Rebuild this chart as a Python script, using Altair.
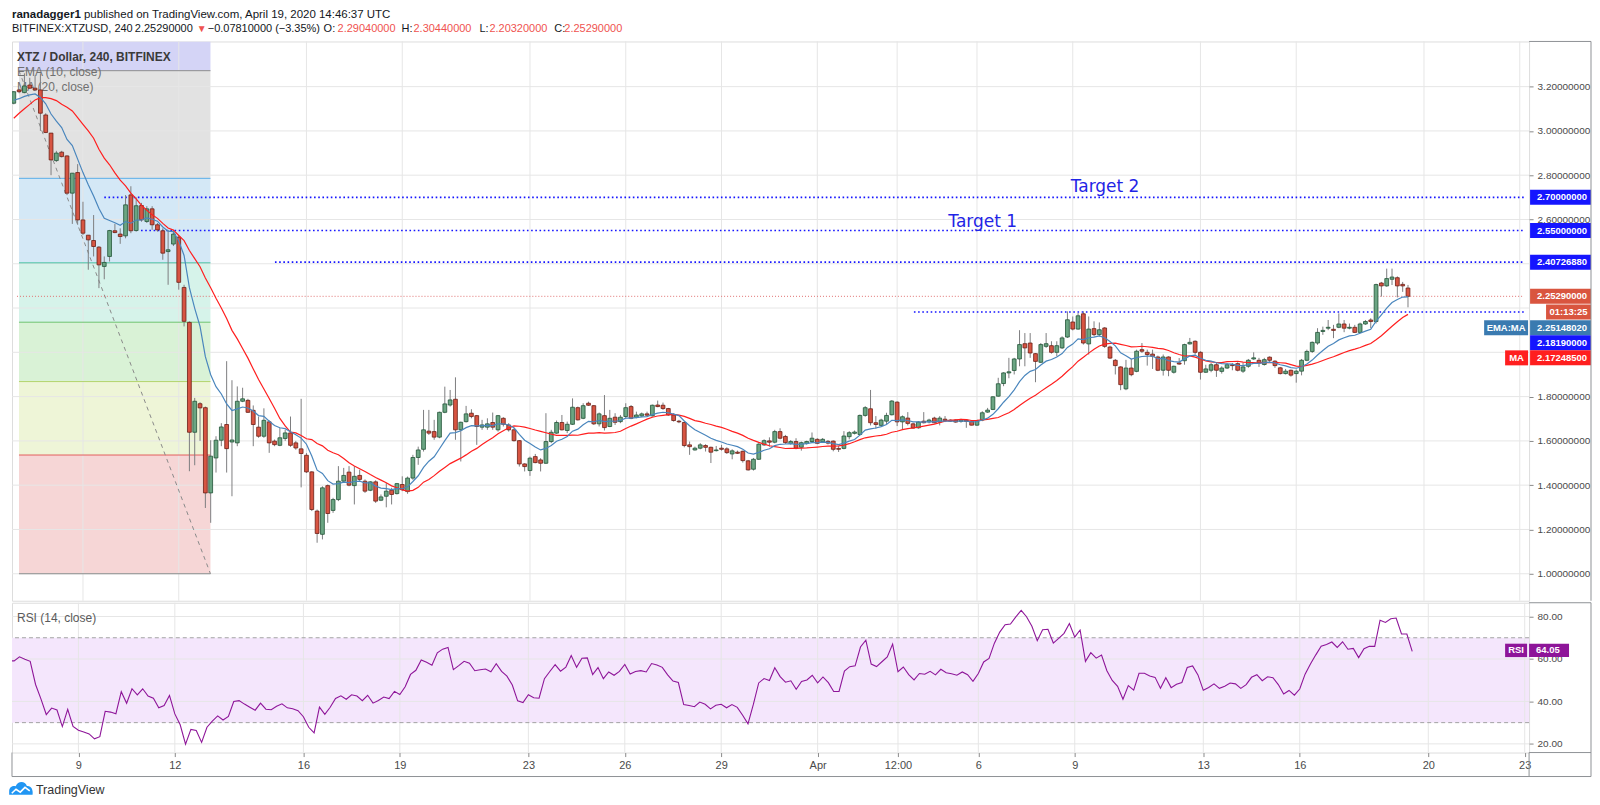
import json
import altair as alt
import numpy as np
import pandas as pd

# ---------------------------------------------------------------- data
first_bar = "2020-03-06 20:00"          # BITFINEX:XTZUSD, 4-hour bars

opens = [
    3.125, 3.185, 3.173, 3.207, 3.193, 3.185, 3.072, 2.99, 2.866, 2.904,
    2.887, 2.719, 2.812, 2.598, 2.529, 2.505, 2.475, 2.388, 2.433, 2.549,
    2.534, 2.526, 2.711, 2.55, 2.663, 2.591, 2.648, 2.576, 2.549, 2.455,
    2.489, 2.52, 2.293, 2.135, 1.639, 1.768, 1.75, 1.365, 1.523, 1.603,
    1.674, 1.595, 1.591, 1.779, 1.783, 1.738, 1.662, 1.621, 1.686, 1.599,
    1.58, 1.611, 1.636, 1.591, 1.564, 1.535, 1.46, 1.283, 1.178, 1.398,
    1.286, 1.335, 1.418, 1.459, 1.398, 1.444, 1.418, 1.377, 1.415, 1.332,
    1.35, 1.377, 1.362, 1.403, 1.371, 1.432, 1.525, 1.562, 1.644, 1.642,
    1.617, 1.729, 1.762, 1.788, 1.65, 1.687, 1.725, 1.714, 1.662, 1.662,
    1.683, 1.65, 1.702, 1.672, 1.65, 1.601, 1.496, 1.466, 1.529, 1.514,
    1.499, 1.597, 1.635, 1.683, 1.647, 1.675, 1.75, 1.702, 1.77, 1.759,
    1.677, 1.714, 1.665, 1.707, 1.687, 1.71, 1.755, 1.707, 1.713, 1.722,
    1.713, 1.762, 1.761, 1.746, 1.717, 1.689, 1.683, 1.582, 1.559, 1.567,
    1.579, 1.571, 1.556, 1.567, 1.564, 1.541, 1.549, 1.553, 1.51, 1.472,
    1.517, 1.582, 1.60, 1.594, 1.642, 1.62, 1.589, 1.597, 1.571, 1.589,
    1.597, 1.607, 1.596, 1.598, 1.599, 1.566, 1.566, 1.619, 1.634, 1.629,
    1.715, 1.745, 1.682, 1.67, 1.689, 1.718, 1.775, 1.686, 1.703, 1.677,
    1.659, 1.689, 1.686, 1.703, 1.685, 1.698, 1.694, 1.694, 1.688, 1.694,
    1.689, 1.671, 1.694, 1.73, 1.742, 1.802, 1.859, 1.907, 1.918, 1.97,
    2.039, 2.042, 1.994, 1.955, 2.027, 2.03, 2.00, 2.02, 2.069, 2.137,
    2.105, 2.174, 2.038, 2.107, 2.08, 2.11, 2.024, 1.964, 1.934, 1.835,
    1.929, 1.914, 2.012, 2.00, 1.992, 1.979, 1.919, 1.979, 1.91, 1.952,
    1.962, 2.038, 2.05, 2.00, 1.91, 1.919, 1.944, 1.914, 1.929, 1.944,
    1.949, 1.915, 1.937, 1.97, 1.964, 1.945, 1.978, 1.96, 1.93, 1.904,
    1.919, 1.904, 1.915, 1.964, 2.004, 2.042, 2.094, 2.109, 2.104, 2.113,
    2.128, 2.109, 2.113, 2.09, 2.128, 2.146, 2.139, 2.313, 2.30, 2.33,
    2.337, 2.307, 2.2904,
]
highs = [
    3.18, 3.19, 3.26, 3.24, 3.25, 3.26, 3.08, 2.99, 2.91, 2.91,
    2.89, 2.81, 2.85, 2.68, 2.53, 2.62, 2.48, 2.433, 2.553, 2.58,
    2.56, 2.71, 2.75, 2.70, 2.675, 2.66, 2.66, 2.584, 2.56, 2.553,
    2.553, 2.53, 2.305, 2.14, 1.794, 1.775, 1.755, 1.603, 1.621, 1.68,
    1.96, 1.874, 1.846, 1.84, 1.79, 1.76, 1.71, 1.747, 1.693, 1.606,
    1.659, 1.65, 1.71, 1.60, 1.79, 1.545, 1.463, 1.29, 1.395, 1.403,
    1.343, 1.486, 1.478, 1.486, 1.486, 1.47, 1.426, 1.418, 1.422, 1.358,
    1.41, 1.388, 1.41, 1.44, 1.439, 1.537, 1.574, 1.74, 1.74, 1.695,
    1.732, 1.845, 1.83, 1.887, 1.687, 1.758, 1.743, 1.717, 1.695, 1.702,
    1.728, 1.717, 1.707, 1.68, 1.657, 1.604, 1.499, 1.529, 1.541, 1.522,
    1.725, 1.65, 1.692, 1.717, 1.687, 1.792, 1.755, 1.77, 1.777, 1.762,
    1.728, 1.807, 1.74, 1.725, 1.717, 1.77, 1.762, 1.732, 1.728, 1.732,
    1.764, 1.782, 1.773, 1.749, 1.725, 1.695, 1.686, 1.597, 1.574, 1.59,
    1.585, 1.574, 1.577, 1.582, 1.571, 1.562, 1.556, 1.556, 1.514, 1.523,
    1.59, 1.607, 1.616, 1.65, 1.657, 1.627, 1.604, 1.612, 1.597, 1.601,
    1.638, 1.612, 1.613, 1.604, 1.602, 1.577, 1.644, 1.644, 1.647, 1.719,
    1.757, 1.83, 1.712, 1.70, 1.727, 1.784, 1.779, 1.715, 1.73, 1.682,
    1.689, 1.73, 1.70, 1.709, 1.712, 1.712, 1.697, 1.697, 1.70, 1.697,
    1.694, 1.695, 1.734, 1.749, 1.802, 1.885, 1.91, 1.975, 1.975, 2.10,
    2.087, 2.087, 1.997, 2.042, 2.087, 2.05, 2.05, 2.072, 2.185, 2.162,
    2.177, 2.185, 2.162, 2.14, 2.135, 2.114, 2.03, 1.97, 1.937, 1.966,
    1.97, 2.012, 2.042, 2.012, 2.012, 1.985, 1.99, 1.982, 1.94, 1.974,
    2.039, 2.065, 2.054, 2.005, 1.944, 1.952, 1.952, 1.937, 1.952, 1.952,
    1.955, 1.952, 1.97, 2.00, 1.975, 1.975, 1.982, 1.964, 1.934, 1.925,
    1.922, 1.922, 1.97, 2.012, 2.049, 2.109, 2.116, 2.146, 2.124, 2.176,
    2.146, 2.13, 2.124, 2.134, 2.146, 2.154, 2.31, 2.318, 2.378, 2.378,
    2.343, 2.318, 2.3044,
]
lows = [
    3.12, 3.17, 3.17, 3.19, 3.18, 3.00, 2.99, 2.80, 2.86, 2.88,
    2.71, 2.58, 2.576, 2.53, 2.373, 2.433, 2.29, 2.33, 2.41, 2.538,
    2.49, 2.515, 2.538, 2.545, 2.59, 2.584, 2.553, 2.545, 2.418, 2.305,
    2.48, 2.283, 2.117, 1.463, 1.49, 1.60, 1.297, 1.23, 1.457, 1.576,
    1.457, 1.35, 1.576, 1.775, 1.726, 1.576, 1.614, 1.614, 1.546, 1.576,
    1.576, 1.60, 1.573, 1.56, 1.39, 1.455, 1.283, 1.14, 1.155, 1.23,
    1.275, 1.328, 1.41, 1.395, 1.313, 1.418, 1.365, 1.373, 1.32, 1.328,
    1.30, 1.313, 1.358, 1.373, 1.361, 1.424, 1.492, 1.552, 1.627, 1.605,
    1.612, 1.725, 1.755, 1.605, 1.507, 1.683, 1.702, 1.582, 1.65, 1.65,
    1.65, 1.642, 1.665, 1.642, 1.597, 1.484, 1.462, 1.442, 1.499, 1.462,
    1.496, 1.59, 1.632, 1.647, 1.635, 1.672, 1.692, 1.698, 1.758, 1.672,
    1.665, 1.647, 1.662, 1.672, 1.68, 1.702, 1.698, 1.702, 1.707, 1.71,
    1.71, 1.752, 1.74, 1.713, 1.687, 1.68, 1.571, 1.537, 1.556, 1.562,
    1.552, 1.50, 1.552, 1.556, 1.541, 1.517, 1.541, 1.502, 1.466, 1.466,
    1.514, 1.577, 1.574, 1.589, 1.607, 1.586, 1.583, 1.562, 1.556, 1.583,
    1.592, 1.585, 1.592, 1.584, 1.553, 1.55, 1.562, 1.607, 1.629, 1.625,
    1.709, 1.67, 1.655, 1.667, 1.674, 1.715, 1.667, 1.652, 1.67, 1.655,
    1.655, 1.679, 1.679, 1.679, 1.67, 1.685, 1.686, 1.682, 1.682, 1.659,
    1.67, 1.668, 1.689, 1.727, 1.739, 1.799, 1.847, 1.883, 1.90, 1.937,
    1.937, 1.975, 1.865, 1.952, 2.02, 1.994, 1.982, 2.015, 2.065, 2.099,
    2.102, 2.035, 1.99, 2.072, 2.072, 2.02, 1.97, 1.90, 1.829, 1.829,
    1.892, 1.91, 1.997, 1.94, 1.925, 1.915, 1.895, 1.892, 1.904, 1.944,
    1.944, 2.035, 1.99, 1.877, 1.907, 1.91, 1.889, 1.904, 1.925, 1.919,
    1.914, 1.907, 1.93, 1.966, 1.934, 1.94, 1.955, 1.93, 1.90, 1.90,
    1.89, 1.863, 1.896, 1.96, 1.997, 2.034, 2.079, 2.10, 2.064, 2.109,
    2.091, 2.104, 2.087, 2.087, 2.124, 2.109, 2.13, 2.252, 2.296, 2.304,
    2.248, 2.273, 2.2032,
]
closes = [
    3.177, 3.177, 3.203, 3.193, 3.185, 3.08, 2.993, 2.869, 2.90, 2.884,
    2.719, 2.809, 2.598, 2.538, 2.508, 2.478, 2.395, 2.406, 2.55, 2.541,
    2.523, 2.666, 2.549, 2.662, 2.598, 2.648, 2.576, 2.553, 2.448, 2.463,
    2.534, 2.316, 2.14, 1.639, 1.779, 1.749, 1.365, 1.531, 1.603, 1.663,
    1.565, 1.604, 1.779, 1.79, 1.729, 1.674, 1.621, 1.693, 1.591, 1.583,
    1.614, 1.636, 1.58, 1.568, 1.543, 1.46, 1.29, 1.182, 1.388, 1.272,
    1.335, 1.418, 1.444, 1.40, 1.44, 1.426, 1.373, 1.415, 1.328, 1.347,
    1.373, 1.358, 1.407, 1.38, 1.432, 1.525, 1.559, 1.65, 1.635, 1.617,
    1.729, 1.767, 1.785, 1.65, 1.684, 1.722, 1.71, 1.665, 1.672, 1.677,
    1.662, 1.714, 1.675, 1.65, 1.601, 1.496, 1.484, 1.522, 1.502, 1.499,
    1.597, 1.639, 1.683, 1.65, 1.675, 1.752, 1.695, 1.759, 1.761, 1.677,
    1.722, 1.66, 1.702, 1.684, 1.707, 1.75, 1.702, 1.717, 1.722, 1.716,
    1.761, 1.755, 1.746, 1.717, 1.692, 1.686, 1.579, 1.574, 1.567, 1.582,
    1.571, 1.549, 1.559, 1.562, 1.547, 1.555, 1.544, 1.511, 1.469, 1.517,
    1.585, 1.601, 1.594, 1.642, 1.612, 1.592, 1.597, 1.567, 1.592, 1.597,
    1.612, 1.589, 1.607, 1.59, 1.562, 1.562, 1.622, 1.637, 1.64, 1.715,
    1.75, 1.682, 1.674, 1.694, 1.715, 1.78, 1.686, 1.709, 1.679, 1.658,
    1.685, 1.682, 1.694, 1.682, 1.703, 1.692, 1.689, 1.685, 1.695, 1.688,
    1.671, 1.692, 1.727, 1.739, 1.799, 1.858, 1.907, 1.912, 1.97, 2.035,
    2.02, 1.997, 1.959, 2.035, 2.039, 2.00, 2.03, 2.065, 2.147, 2.105,
    2.165, 2.042, 2.105, 2.08, 2.102, 2.027, 1.974, 1.94, 1.854, 1.929,
    1.899, 2.005, 2.005, 1.99, 1.982, 1.919, 1.979, 1.919, 1.937, 1.947,
    2.035, 2.045, 2.00, 1.91, 1.925, 1.944, 1.919, 1.929, 1.944, 1.94,
    1.919, 1.934, 1.964, 1.975, 1.952, 1.967, 1.964, 1.94, 1.904, 1.915,
    1.897, 1.915, 1.964, 2.004, 2.045, 2.09, 2.099, 2.113, 2.099, 2.128,
    2.109, 2.113, 2.09, 2.128, 2.139, 2.139, 2.306, 2.30, 2.333, 2.34,
    2.30, 2.30, 2.2529,
]
assert len(opens) == len(highs) == len(lows) == len(closes) == 263

# indicator state at its left edge (history before the window)
ma_first_read = [3.057, 3.08, 3.10, 3.12, 3.14, 3.15, 3.15, 3.146, 3.137, 3.12,
                 3.107, 3.09, 3.06, 3.03, 3.0, 2.967, 2.917, 2.877, 2.847]
ema_before_first = 3.13
rsi_seed_gain, rsi_seed_loss = 0.026, 0.018

price_ticks = [1.0, 1.2, 1.4, 1.6, 1.8, 2.0, 2.2, 2.4, 2.6, 2.8, 3.0, 3.2]
price_hidden_ticks = [2.0, 2.2, 2.4]          # labels covered by the price tags in the reference
rsi_ticks = [20, 40, 60, 80]
time_ticks = [9, 12, 16, 19, 23, 26, 29, 32, 34.5, 37, 40, 44, 47, 51, 54]   # day of March (Apr 1 = 32)
time_labels = ["9", "12", "16", "19", "23", "26", "29", "Apr", "12:00", "6", "9", "13", "16", "20", "23"]

fib_low, fib_high = 1.0, 3.272
fib_ratios = [0, 0.236, 0.382, 0.5, 0.618, 0.786, 1.0, 1.618]
fib_start_day, fib_end_day = 6.996, 12.993

level_prices = [2.70, 2.55, 2.4072688, 2.1819]
level_start_days = [9.668, 10.818, 15.013, 35.025]
last_price = 2.2529

target_texts = ["Target 2", "Target 1"]
target_days = [39.935, 36.104]
target_prices = [2.726, 2.564]

axis_tag_texts = ["2.70000000", "2.55000000", "2.40726880", "2.25290000",
                  "2.25148020", "2.18190000", "2.17248500"]
axis_tag_at = [2.70, 2.55, 2.4072688, 2.2529, 2.111, 2.043, 1.975]   # displayed (stacked) positions
timer_text, timer_at = "01:13:25", 2.182
rsi_last_text, rsi_last_at = "64.05", 64.05

# ---------------------------------------------------------------- styles
FONT = "Liberation Sans"
GRID = "#e6e6e6"
FRAME = "#8f9296"
UP, UP_EDGE = "#6ba583", "#225437"
DN, DN_EDGE = "#d75442", "#6b1f16"
WICK = "#7d7d7f"
EMA_C, MA_C = "#4a86bd", "#ff1f1f"
BLUE = "#1515ff"
LAST_RED = "#d9553f"
EMA_BOX = "#3a7ab0"
RSI_C = "#8e1599"
HEAD_RED = "#ef5350"

X0, X1 = 6.9335, 54.136
P0, P1 = 0.878, 3.404
R0, R1 = 15.9, 86.5
W, HM, HR = 1519, 560, 150
PX_PER_PRICE = HM / (P1 - P0)
PX_PER_RSI = HR / (R1 - R0)

# ---------------------------------------------------------------- derived series
n = len(closes)
times = pd.date_range(first_bar, periods=n, freq="4h")
day = ((times - pd.Timestamp("2020-02-29")) / pd.Timedelta(days=1)).to_numpy()

alpha = 2 / 11
ema, prev = [], ema_before_first
for c in closes:
    prev = prev + alpha * (c - prev)
    ema.append(prev)
ma = list(ma_first_read) + [float(np.mean(closes[i - 19:i + 1])) for i in range(19, n)]

ag, al = rsi_seed_gain, rsi_seed_loss
rsi = [100 * ag / (ag + al)]
for i in range(1, n):
    ch = closes[i] - closes[i - 1]
    ag = (ag * 13 + max(ch, 0)) / 14
    al = (al * 13 + max(-ch, 0)) / 14
    rsi.append(100 - 100 / (1 + ag / al))

df = pd.DataFrame({"day": day, "open": opens, "high": highs, "low": lows,
                   "close": closes, "ema": ema, "ma": ma, "rsi": rsi})
df["dir"] = np.where(df["close"] >= df["open"], "up", "down")

x_scale = alt.Scale(domain=[X0, X1], nice=False, zero=False)
y_scale = alt.Scale(domain=[P0, P1], nice=False, zero=False)
r_scale = alt.Scale(domain=[R0, R1], nice=False, zero=False)

price_label_ticks = [p for p in price_ticks if p not in price_hidden_ticks]
PRICE_AXIS = alt.Axis(orient="right", values=price_label_ticks, format=".8f", grid=False, domain=False,
                      tickColor="#8a8a8a", tickSize=4, labelColor="#4a4a4a", labelFontSize=10,
                      labelFont=FONT, labelPadding=4, title=None, labelOverlap=False)
RSI_AXIS = alt.Axis(orient="right", values=rsi_ticks, format=".2f", grid=False, domain=False,
                    tickColor="#8a8a8a", tickSize=4, labelColor="#4a4a4a", labelFontSize=10,
                    labelFont=FONT, labelPadding=4, title=None, labelOverlap=False)
label_expr = f"{json.dumps(time_labels)}[indexof({json.dumps(time_ticks)}, datum.value)]"
TIME_AXIS = alt.Axis(values=time_ticks, labelExpr=label_expr, grid=False, domain=False,
                     tickColor="#8a8a8a", tickSize=4, labelColor="#4a4a4a", labelFontSize=11,
                     labelFont=FONT, labelPadding=3, title=None, labelOverlap=False, labelFlush=False)


def px(field):          # main panel x (no axis)
    return alt.X(field, type="quantitative", scale=x_scale, axis=None)


def rx(field):          # RSI panel x (time axis)
    return alt.X(field, type="quantitative", scale=x_scale, axis=TIME_AXIS)


def py(field):
    return alt.Y(field, type="quantitative", scale=y_scale, axis=PRICE_AXIS)


def ry(field):
    return alt.Y(field, type="quantitative", scale=r_scale, axis=RSI_AXIS)


one = pd.DataFrame({"k": [0]})

# ---------------------------------------------------------------- header
head_rows = [
    ("published on TradingView.com, April 19, 2020 14:46:37 UTC", 72, 6, "#131722", 11.5),
    ("BITFINEX:XTZUSD, 240", 0, 20, "#131722", 11),
    ("2.25290000", 123, 20, "#131722", 11),
    ("\u25BC", 185, 20, HEAD_RED, 10),
    ("\u22120.07810000 (\u22123.35%)", 196, 20, "#131722", 11),
    ("O:", 312, 20, "#131722", 11), ("2.29040000", 326, 20, HEAD_RED, 11),
    ("H:", 390, 20, "#131722", 11), ("2.30440000", 402, 20, HEAD_RED, 11),
    ("L:", 468, 20, "#131722", 11), ("2.20320000", 478, 20, HEAD_RED, 11),
    ("C:", 543, 20, "#131722", 11), ("2.25290000", 553, 20, HEAD_RED, 11),
]
head_df = pd.DataFrame(head_rows, columns=["t", "x", "y", "c", "s"])
head_norm = alt.Chart(head_df).mark_text(align="left", baseline="middle", font=FONT).encode(
    x=alt.X("x:Q", scale=None), y=alt.Y("y:Q", scale=None), text="t:N",
    color=alt.Color("c:N", scale=None), size=alt.Size("s:Q", scale=None, legend=None))
head_bold = alt.Chart(pd.DataFrame({"t": ["ranadagger1"]})).mark_text(
    align="left", baseline="middle", font=FONT, fontSize=11.5, fontWeight="bold", color="#131722").encode(
    x=alt.value(0), y=alt.value(6), text="t:N")
header = alt.layer(head_bold, head_norm).properties(width=W, height=30, view=alt.ViewBackground(stroke="transparent"))

# ---------------------------------------------------------------- main panel
fib_prices = [fib_low + r * (fib_high - fib_low) for r in fib_ratios]
zone_fills = ["#f6d6d6", "#eef5d7", "#d9f2d6", "#d6f3ea", "#d4e8f6", "#e2e2e2", "#d4d4f6"]
line_cols = ["#8c8c8c", "#e35d5d", "#b3d46c", "#6cc46c", "#3fbf9f", "#5aaee8", "#8c8c8c"]
fib_zone_df = pd.DataFrame({"x1": fib_start_day, "x2": fib_end_day,
                            "lo": fib_prices[:-1], "hi": [min(p, P1) for p in fib_prices[1:]],
                            "fill": zone_fills})
fib_line_df = pd.DataFrame({"x1": fib_start_day, "x2": fib_end_day, "p": fib_prices[:-1], "c": line_cols})
fib_diag_df = pd.DataFrame({"x1": [fib_start_day], "x2": [fib_end_day], "y1": [fib_high], "y2": [fib_low]})

zones = alt.Chart(fib_zone_df).mark_rect(clip=True).encode(
    x=px("x1"), x2="x2", y=py("lo"), y2="hi", fill=alt.Fill("fill:N", scale=None))
hgrid = alt.Chart(pd.DataFrame({"p": price_ticks})).mark_rule(color=GRID, strokeWidth=1).encode(y=py("p"))
vgrid = alt.Chart(pd.DataFrame({"d": time_ticks})).mark_rule(color=GRID, strokeWidth=1).encode(x=px("d"))
fib_lines = alt.Chart(fib_line_df).mark_rule(strokeWidth=1, clip=True).encode(
    x=px("x1"), x2="x2", y=py("p"), color=alt.Color("c:N", scale=None))
fib_diag = alt.Chart(fib_diag_df).mark_rule(color="#8a8a8a", strokeWidth=1, strokeDash=[4, 4], clip=True).encode(
    x=px("x1"), x2="x2", y=py("y1"), y2="y2")

legend_main = alt.layer(
    alt.Chart(one).mark_text(align="left", baseline="middle", font=FONT, fontSize=12, fontWeight="bold",
                             color="#3a3a3a", text="XTZ / Dollar, 240, BITFINEX").encode(x=alt.value(5), y=alt.value(16)),
    alt.Chart(one).mark_text(align="left", baseline="middle", font=FONT, fontSize=12,
                             color="#707070", text="EMA (10, close)").encode(x=alt.value(5), y=alt.value(31)),
    alt.Chart(one).mark_text(align="left", baseline="middle", font=FONT, fontSize=12,
                             color="#707070", text="MA (20, close)").encode(x=alt.value(5), y=alt.value(46)),
)

lvl_df = pd.DataFrame({"x1": level_start_days, "x2": X1, "p": level_prices})
levels = alt.Chart(lvl_df).mark_rule(color=BLUE, strokeWidth=1.6, strokeDash=[1.6, 2.6]).encode(
    x=px("x1"), x2="x2", y=py("p"))
last_line = alt.Chart(pd.DataFrame({"x1": [X0], "x2": [X1], "p": [last_price]})).mark_rule(
    color="#e07070", strokeWidth=1, strokeDash=[1, 2]).encode(x=px("x1"), x2="x2", y=py("p"))

candles_base = alt.Chart(df)
wicks = candles_base.mark_rule(color=WICK, strokeWidth=1, clip=True).encode(
    x=px("day"), y=py("low"), y2="high")
bodies = candles_base.mark_bar(size=3.8, strokeWidth=0.8, clip=True).encode(
    x=px("day"), y=py("open"), y2="close",
    fill=alt.Fill("dir:N", scale=alt.Scale(domain=["up", "down"], range=[UP, DN]), legend=None),
    stroke=alt.Stroke("dir:N", scale=alt.Scale(domain=["up", "down"], range=[UP_EDGE, DN_EDGE]), legend=None))
ma_line = candles_base.mark_line(color=MA_C, strokeWidth=1.2, clip=True).encode(x=px("day"), y=py("ma"))
ema_line = candles_base.mark_line(color=EMA_C, strokeWidth=1.2, clip=True).encode(x=px("day"), y=py("ema"))

targets = alt.Chart(pd.DataFrame({"t": target_texts, "d": target_days, "p": target_prices})).mark_text(
    align="left", baseline="alphabetic", font="DejaVu Sans", fontSize=17, color="#1f24e6").encode(
    x=px("d"), y=py("p"), text="t:N")

hb = 7.5 / PX_PER_PRICE
tag_bg = [BLUE, BLUE, BLUE, LAST_RED, EMA_BOX, BLUE, MA_C]
tag_df = pd.DataFrame({"t": axis_tag_texts, "p": axis_tag_at, "bg": tag_bg})
tag_df["lo"] = tag_df["p"] - hb
tag_df["hi"] = tag_df["p"] + hb
tag_rect = alt.Chart(tag_df).mark_rect().encode(
    x=alt.value(W + 1), x2=alt.value(1581), y=py("lo"), y2="hi", fill=alt.Fill("bg:N", scale=None))
tag_text = alt.Chart(tag_df).mark_text(align="left", baseline="middle", font=FONT, fontSize=9.5,
                                       fontWeight="bold", color="white").encode(
    x=alt.value(1527), y=py("p"), text="t:N")

side_df = pd.DataFrame({"t": ["EMA:MA", "MA", timer_text],
                        "p": [2.111, 1.975, timer_at],
                        "bg": [EMA_BOX, MA_C, LAST_RED]})
side_df["lo"] = side_df["p"] - hb
side_df["hi"] = side_df["p"] + hb
side_layers = []
for (t, x1, x2, xc) in [("EMA:MA", 1474, 1518, 1496), ("MA", 1495, 1518, 1506.5), (timer_text, 1536, 1581, 1558.5)]:
    sub = side_df[side_df["t"] == t]
    side_layers.append(alt.Chart(sub).mark_rect().encode(
        x=alt.value(x1), x2=alt.value(x2), y=py("lo"), y2="hi", fill=alt.Fill("bg:N", scale=None)))
    side_layers.append(alt.Chart(sub).mark_text(align="center", baseline="middle", font=FONT, fontSize=9.5,
                                                fontWeight="bold", color="white").encode(
        x=alt.value(xc), y=py("p"), text="t:N"))

frame_main = alt.layer(
    alt.Chart(one).mark_rule(color=FRAME, strokeWidth=1).encode(x=alt.value(1581), y=alt.value(0), y2=alt.value(HM)),
    alt.Chart(one).mark_rule(color=FRAME, strokeWidth=1).encode(x=alt.value(W), x2=alt.value(1581), y=alt.value(0)),
)

main = alt.layer(zones, hgrid, vgrid, fib_lines, fib_diag, legend_main, levels, last_line,
                 wicks, bodies, ma_line, ema_line, targets, tag_rect, tag_text, *side_layers,
                 frame_main).properties(width=W, height=HM)

# ---------------------------------------------------------------- RSI panel
band = alt.Chart(pd.DataFrame({"x1": [X0], "x2": [X1], "lo": [30], "hi": [70]})).mark_rect(color="#f4e6fc").encode(
    x=rx("x1"), x2="x2", y=ry("lo"), y2="hi")
r_hgrid = alt.Chart(pd.DataFrame({"r": rsi_ticks})).mark_rule(color=GRID).encode(y=ry("r"))
r_vgrid = alt.Chart(pd.DataFrame({"d": time_ticks})).mark_rule(color=GRID).encode(x=rx("d"))
r_dash = alt.Chart(pd.DataFrame({"r": [30, 70]})).mark_rule(color="#a3a3a3", strokeDash=[4, 3]).encode(y=ry("r"))
rsi_line = alt.Chart(df).mark_line(color=RSI_C, strokeWidth=1.1, clip=True).encode(x=rx("day"), y=ry("rsi"))
rsi_legend = alt.Chart(one).mark_text(align="left", baseline="middle", font=FONT, fontSize=12, color="#5a5a5a",
                                      text="RSI (14, close)").encode(x=alt.value(5), y=alt.value(15))
rb = 6.7 / PX_PER_RSI
rsi_tag_df = pd.DataFrame({"t": [rsi_last_text], "v": [rsi_last_at], "lo": [rsi_last_at - rb], "hi": [rsi_last_at + rb]})
rsi_tags = alt.layer(
    alt.Chart(rsi_tag_df).mark_rect(color=RSI_C).encode(x=alt.value(1495), x2=alt.value(1517), y=ry("lo"), y2="hi"),
    alt.Chart(rsi_tag_df).mark_rect(color=RSI_C).encode(x=alt.value(W), x2=alt.value(1559), y=ry("lo"), y2="hi"),
    alt.Chart(rsi_tag_df).mark_text(align="center", baseline="middle", font=FONT, fontSize=9.5, fontWeight="bold",
                                    color="white", text="RSI").encode(x=alt.value(1506), y=ry("v")),
    alt.Chart(rsi_tag_df).mark_text(align="left", baseline="middle", font=FONT, fontSize=9.5, fontWeight="bold",
                                    color="white").encode(x=alt.value(1526), y=ry("v"), text="t:N"),
)
frame_rsi = alt.layer(
    alt.Chart(one).mark_rule(color=FRAME).encode(x=alt.value(1581), y=alt.value(0), y2=alt.value(174)),
    alt.Chart(one).mark_rule(color=FRAME).encode(x=alt.value(W), x2=alt.value(1581), y=alt.value(0)),
    alt.Chart(one).mark_rule(color=FRAME).encode(x=alt.value(W), x2=alt.value(1581), y=alt.value(HR)),
    alt.Chart(one).mark_rule(color=FRAME).encode(x=alt.value(W), y=alt.value(HR), y2=alt.value(174)),
    alt.Chart(one).mark_rule(color=FRAME).encode(x=alt.value(0), y=alt.value(HR), y2=alt.value(174)),
    alt.Chart(one).mark_rule(color=FRAME).encode(x=alt.value(0), x2=alt.value(1581), y=alt.value(174)),
)
CLOUD = "M-1,0.45 L-1,0.15 C-1,-0.2 -0.7,-0.35 -0.45,-0.28 C-0.3,-0.72 0.35,-0.78 0.5,-0.3 C0.85,-0.35 1.05,0 0.98,0.45 Z"
ZIG = "M-0.78,0.32 L-0.42,-0.02 L-0.06,0.22 L0.34,-0.18 L0.74,0.12"
logo = alt.layer(
    alt.Chart(one).mark_point(shape=CLOUD, size=560, filled=True, color="#2196f3", opacity=1).encode(
        x=alt.value(9), y=alt.value(187)),
    alt.Chart(one).mark_point(shape=ZIG, size=560, filled=False, color="white", strokeWidth=1.6, opacity=1).encode(
        x=alt.value(9), y=alt.value(187)),
    alt.Chart(one).mark_text(align="left", baseline="middle", font=FONT, fontSize=12.5, color="#333333",
                             text="TradingView").encode(x=alt.value(24), y=alt.value(187)),
)

rsi_panel = alt.layer(band, r_hgrid, r_vgrid, r_dash, rsi_line, rsi_legend, rsi_tags, frame_rsi, logo).properties(
    width=W, height=HR)

chart = alt.vconcat(header, main, rsi_panel, spacing=0, padding=0, background="white").configure_view(
    stroke=FRAME, strokeWidth=1).configure(font=FONT)

chart.save("out.html", embed_options={"renderer": "svg", "actions": False})
